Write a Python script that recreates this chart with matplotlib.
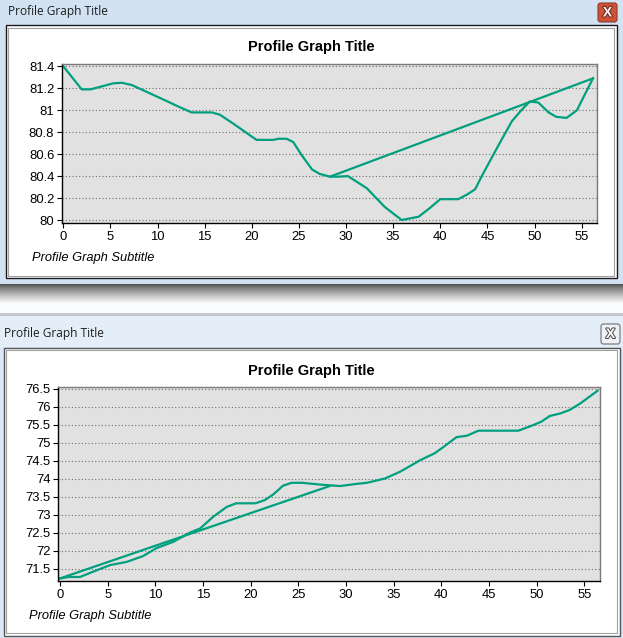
import numpy as np
import matplotlib

matplotlib.use("Agg")
import matplotlib.pyplot as plt
import matplotlib.patheffects as pe
from matplotlib.patches import Rectangle, FancyBboxPatch

W, H = 623, 638

# profil du haut : distance / altitude
top_dist = [0, 1.95, 2.9, 5.3, 6.2, 7.25, 10.3, 11.3, 12.3, 13.6, 15.75, 16.6, 18.0,
            19.5, 20.5, 22.3, 22.8, 23.7, 24.4, 25.3, 26.4, 27.2, 28.3, 29.2, 30.2,
            32.2, 34.1, 35.9, 37.7, 38.9, 40.0, 41.9, 42.8, 43.7, 44.4, 46.3, 47.6,
            48.6, 49.5, 50.4, 51.5, 52.3, 53.4, 54.5, 56.2]
top_elev = [81.4, 81.19, 81.19, 81.245, 81.25, 81.23, 81.11, 81.07, 81.03, 80.98, 80.98,
            80.96, 80.88, 80.79, 80.73, 80.73, 80.74, 80.74, 80.71, 80.59, 80.46, 80.42,
            80.395, 80.395, 80.40, 80.29, 80.12, 80.0, 80.03, 80.11, 80.19, 80.19, 80.23,
            80.28, 80.40, 80.70, 80.90, 81.0, 81.08, 81.07, 80.98, 80.94, 80.93, 81.0, 81.29]
top_chord_dist = [28.3, 56.2]
top_chord_elev = [80.395, 81.29]
top_yticks = [80, 80.2, 80.4, 80.6, 80.8, 81, 81.2, 81.4]

# profil du bas
bot_dist = [0, 0.9, 2.1, 3.5, 5.25, 7.0, 8.7, 10.1, 11.9, 13.6, 14.7, 16.1, 17.5, 18.5,
            20.5, 21.5, 22.4, 23.4, 24.3, 25.4, 27.3, 29.4, 31.1, 32.2, 34.1, 35.7, 37.8,
            39.3, 40.2, 41.6, 42.7, 43.9, 48.1, 49.7, 50.5, 51.4, 52.5, 53.5, 54.6, 56.4]
bot_elev = [71.23, 71.27, 71.27, 71.42, 71.60, 71.69, 71.85, 72.07, 72.25, 72.50, 72.62,
            72.95, 73.22, 73.32, 73.32, 73.41, 73.57, 73.81, 73.89, 73.89, 73.84, 73.80,
            73.86, 73.89, 74.01, 74.20, 74.52, 74.71, 74.88, 75.16, 75.20, 75.34, 75.34,
            75.50, 75.59, 75.75, 75.82, 75.92, 76.10, 76.45]
bot_chord_dist = [0, 28.3]
bot_chord_elev = [71.23, 73.80]
bot_yticks = [71.5, 72, 72.5, 73, 73.5, 74, 74.5, 75, 75.5, 76, 76.5]

xticks = list(range(0, 60, 5))
TITLE = "Profile Graph Title"
SUBTITLE = "Profile Graph Subtitle"
LINE = "#00a07e"

plt.rcParams["font.family"] = ["Liberation Sans", "DejaVu Sans"]
fig = plt.figure(figsize=(W / 100, H / 100), dpi=100)
fig.patch.set_facecolor("#d2e2f3")


def rect(x, y, w, h, **kw):
    # rectangle en pixels, origine en haut à gauche, sous les axes
    fig.patches.append(Rectangle((x / W, 1 - (y + h) / H), w / W, h / H,
                                 transform=fig.transFigure, zorder=-2, **kw))


def ftext(x, y, s, **kw):
    fig.text(x / W, 1 - y / H, s, **kw)


# --- habillage des fenêtres ---
rect(0, 284, W, 34, facecolor="#fafbfc", edgecolor="none")
sh = fig.add_axes([0, 1 - 303 / H, 1, 19 / H], zorder=-1)
grad = (0.3 + 0.68 * np.linspace(0, 1, 60) ** 0.8)[:, None] * np.ones((1, 10))
sh.imshow(grad, cmap="gray", vmin=0, vmax=1, aspect="auto", extent=(0, 1, 0, 1))
sh.axis("off")
rect(0, 313, W, 3, facecolor="#c4c8cc", edgecolor="none")
rect(0, 316, W, 32, facecolor="#e4eef9", edgecolor="none")
rect(0, 347, W, H - 347, facecolor="#dbe7f5", edgecolor="none")

# fenêtre du haut
rect(5.5, 25.5, 611, 253, facecolor="white", edgecolor="#1a1a1a", lw=1)
rect(8, 28, 606, 248, facecolor="white", edgecolor="#a0a0a0", lw=0.8)
ftext(8, 12, TITLE, family=["Open Sans", "DejaVu Sans"], fontsize=8.6, va="center", color="#1e1e1e")
fig.patches.append(FancyBboxPatch((598 / W, 1 - 22 / H), 19 / W, 19 / H,
                                  boxstyle="round,pad=0,rounding_size=0.004",
                                  transform=fig.transFigure, facecolor="#cf5238",
                                  edgecolor="#8c3a2a", lw=0.8, zorder=-2))
ftext(607.5, 12.5, "X", fontsize=10, fontweight="bold", color="white", ha="center", va="center",
      path_effects=[pe.withStroke(linewidth=1.5, foreground="#6b2a1e")])

# fenêtre du bas
rect(3.5, 347.5, 616, 288, facecolor="white", edgecolor="#555555", lw=1)
rect(6, 350, 611, 283, facecolor="white", edgecolor="#a0a0a0", lw=0.8)
ftext(4, 334, TITLE, family=["Open Sans", "DejaVu Sans"], fontsize=8.6, va="center", color="#1e1e1e")
fig.patches.append(FancyBboxPatch((601 / W, 1 - 344 / H), 19 / W, 20 / H,
                                  boxstyle="round,pad=0,rounding_size=0.004",
                                  transform=fig.transFigure, facecolor="#eef2f6",
                                  edgecolor="#707070", lw=0.8, zorder=-2))
ftext(610.5, 334, "X", fontsize=10, fontweight="bold", color="white", ha="center", va="center",
      path_effects=[pe.withStroke(linewidth=1.5, foreground="#505050")])


def profile_axes(box, dist, elev, cdist, celev, xlim, ylim, yticks, title_y, sub_y, sub_x):
    left, top, right, bottom = box
    ax = fig.add_axes([left / W, 1 - bottom / H, (right - left) / W, (bottom - top) / H])
    ax.set_facecolor("#e1e1e1")
    ax.plot(dist, elev, color=LINE, lw=1.6, solid_joinstyle="round")
    ax.plot(cdist, celev, color=LINE, lw=1.6)
    ax.set_xlim(*xlim)
    ax.set_ylim(*ylim)
    ax.set_xticks(xticks)
    ax.set_yticks(yticks)
    ax.set_yticklabels([f"{v:g}" for v in yticks])
    ax.yaxis.grid(True, color="#6e6e6e", linestyle=(0, (1, 2)), lw=0.8)
    ax.set_axisbelow(True)
    ax.tick_params(length=3.5, width=0.8, labelsize=9.4, pad=2, color="black")
    for s in ("left", "bottom"):
        ax.spines[s].set_color("black")
        ax.spines[s].set_linewidth(1.0)
    for s in ("top", "right"):
        ax.spines[s].set_color("#7a7a7a")
        ax.spines[s].set_linewidth(1.0)
    ftext(311, title_y, TITLE, fontsize=10.5, fontweight="bold", ha="center", va="center")
    ftext(sub_x, sub_y, SUBTITLE, fontsize=9.3, style="italic", va="center")
    return ax


profile_axes((62, 64, 597, 223), top_dist, top_elev, top_chord_dist, top_chord_elev,
             (-0.14, 56.63), (79.973, 81.421), top_yticks, 47, 258, 32)
profile_axes((58.3, 387.3, 600, 581), bot_dist, bot_elev, bot_chord_dist, bot_chord_elev,
             (-0.18, 56.66), (71.158, 76.547), bot_yticks, 371, 616, 29)

fig.savefig("out.png", dpi=100)
